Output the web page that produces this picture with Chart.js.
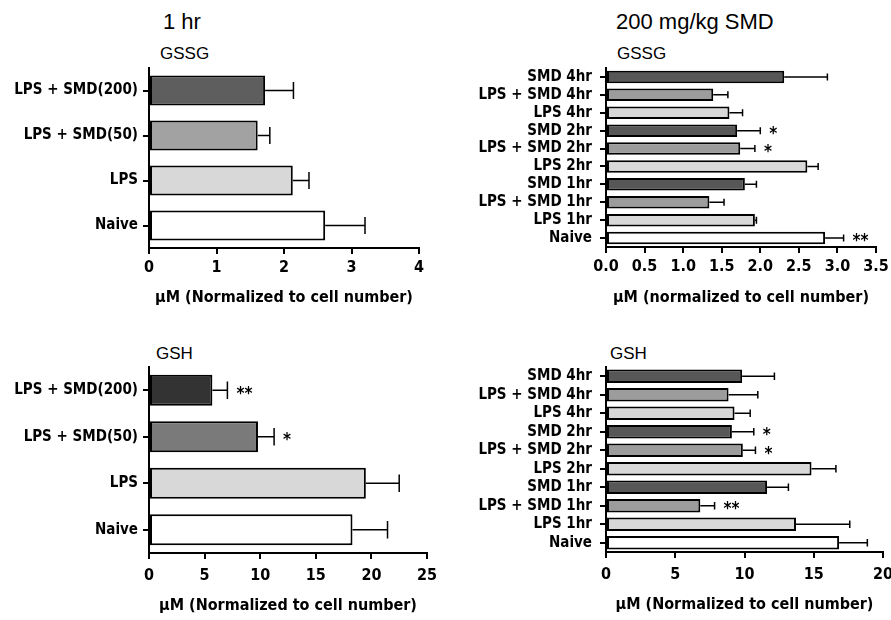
<!DOCTYPE html>
<html>
<head>
<meta charset="utf-8">
<script src="https://cdn.jsdelivr.net/npm/chart.js@4"></script>
<style>
  body { margin: 0; background: #fff; }
  #wrap { position: relative; width: 891px; height: 620px; overflow: hidden; }
  canvas { position: absolute; }
  .ttl { position: absolute; font-family: 'Liberation Sans', Arial, sans-serif; color: #000; white-space: nowrap; line-height: 1; }
  .big { font-size: 22px; }
  .sub { font-size: 17px; }
</style>
</head>
<body>
<div id="wrap">
  <div class="ttl big" style="left:163px; top:11px;">1 hr</div>
  <div class="ttl big" style="left:616px; top:11px;">200 mg/kg SMD</div>
  <div class="ttl sub" style="left:160px; top:45px;">GSSG</div>
  <div class="ttl sub" style="left:617px; top:45px;">GSSG</div>
  <div class="ttl sub" style="left:156px; top:345px;">GSH</div>
  <div class="ttl sub" style="left:610px; top:345px;">GSH</div>
  <canvas id="gssg1h" width="445" height="253" style="left:0; top:58px;"></canvas>
  <canvas id="gssgSmd" width="446" height="253" style="left:445px; top:58px;"></canvas>
  <canvas id="gsh1h" width="445" height="262" style="left:0; top:358px;"></canvas>
  <canvas id="gshSmd" width="446" height="262" style="left:445px; top:358px;"></canvas>
</div>
<script>
// categories
const doseLabels = ['LPS + SMD(200)', 'LPS + SMD(50)', 'LPS', 'Naive'];
const timeLabels = ['SMD 4hr', 'LPS + SMD 4hr', 'LPS 4hr', 'SMD 2hr', 'LPS + SMD 2hr',
                    'LPS 2hr', 'SMD 1hr', 'LPS + SMD 1hr', 'LPS 1hr', 'Naive'];

// GSSG, 1 hr
const gssg1hMean = [1.72, 1.61, 2.13, 2.61];
const gssg1hErr = [0.42, 0.18, 0.24, 0.59];
const gssg1hStars = ['', '', '', ''];

// GSSG, 200 mg/kg SMD
const gssgSmdMean = [2.31, 1.39, 1.60, 1.70, 1.74, 2.61, 1.80, 1.34, 1.93, 2.84];
const gssgSmdErr = [0.56, 0.19, 0.17, 0.30, 0.19, 0.14, 0.15, 0.19, 0.02, 0.24];
const gssgSmdStars = ['', '', '', '*', '*', '', '', '', '', '**'];

// GSH, 1 hr
const gsh1hMean = [5.7, 9.8, 19.5, 18.3];
const gsh1hErr = [1.35, 1.45, 3.0, 3.15];
const gsh1hStars = ['**', '*', '', ''];

// GSH, 200 mg/kg SMD
const gshSmdMean = [9.83, 8.85, 9.28, 9.09, 9.88, 14.84, 11.63, 6.81, 13.72, 16.83];
const gshSmdErr = [2.33, 2.11, 1.13, 1.58, 0.91, 1.76, 1.54, 1.03, 3.88, 2.04];
const gshSmdStars = ['', '', '', '*', '*', '', '', '**', '', ''];

// x axis ranges [min, max, step]
const gssg1hAxis = [0, 4, 1];
const gssgSmdAxis = [0, 3.5, 0.5];
const gsh1hAxis = [0, 25, 5];
const gshSmdAxis = [0, 20, 5];

// bar fills
const DARK = '#575757', MID = '#9c9c9c', LIGHT = '#d8d8d8', WHITE = '#ffffff';
const timeColors = [DARK, MID, LIGHT, DARK, MID, LIGHT, DARK, MID, LIGHT, WHITE];

const FONT = "'Liberation Sans Narrow', 'DejaVu Sans Condensed', 'Liberation Sans', Arial, sans-serif";

// error bars + significance stars
const errorBars = {
    id: 'errorBars',
    afterDatasetsDraw(chart) {
        const ds = chart.data.datasets[0];
        const meta = chart.getDatasetMeta(0);
        const xs = chart.scales.x;
        const ctx = chart.ctx;
        ctx.save();
        ctx.strokeStyle = '#000';
        ctx.fillStyle = '#000';
        ctx.lineWidth = 1.5;
        ctx.font = 'bold 17px ' + FONT;
        ctx.textBaseline = 'middle';
        meta.data.forEach((bar, i) => {
            const x0 = xs.getPixelForValue(ds.data[i]);
            const x1 = xs.getPixelForValue(ds.data[i] + ds.errors[i]);
            const cap = bar.height * 0.28;
            ctx.beginPath();
            ctx.moveTo(x0, bar.y);
            ctx.lineTo(x1, bar.y);
            ctx.moveTo(x1, bar.y - cap);
            ctx.lineTo(x1, bar.y + cap);
            ctx.stroke();
            if (ds.stars[i]) {
                ctx.fillText(ds.stars[i], x1 + 9, bar.y + 4);
            }
        });
        ctx.restore();
    }
};

function makeChart(id, labels, mean, err, stars, colors, axis, opt) {
    const el = document.getElementById(id);
    if (!el) return;
    new Chart(el, {
        type: 'bar',
        data: {
            labels: labels,
            datasets: [{
                data: mean,
                errors: err,
                stars: stars,
                backgroundColor: colors,
                borderColor: '#000',
                borderWidth: 2,
                borderSkipped: false,
                barPercentage: opt.bar,
                categoryPercentage: 1
            }]
        },
        options: {
            indexAxis: 'y',
            responsive: false,
            animation: false,
            events: [],
            layout: { padding: opt.pad },
            plugins: { legend: { display: false }, tooltip: { enabled: false } },
            scales: {
                x: {
                    min: axis[0],
                    max: axis[1],
                    ticks: {
                        stepSize: axis[2],
                        color: '#000',
                        padding: opt.tickPad,
                        font: { family: FONT, size: 16, weight: 'bold' },
                        callback: v => axis[2] < 1 ? v.toFixed(1) : String(v)
                    },
                    grid: { drawOnChartArea: false, drawTicks: true, tickLength: 6, color: '#000', lineWidth: 2 },
                    border: { color: '#000', width: 2 },
                    title: {
                        display: true,
                        text: opt.xTitle,
                        color: '#000',
                        padding: { top: 4, bottom: 4 },
                        font: { family: FONT, size: 16, weight: 'bold' }
                    },
                    afterFit: s => { s.height = opt.xH; s.paddingLeft = 0; s.paddingRight = 0; }
                },
                y: {
                    ticks: {
                        color: '#000',
                        padding: opt.yPad,
                        autoSkip: false,
                        font: { family: FONT, size: 15, weight: 'bold' }
                    },
                    grid: { offset: false, drawOnChartArea: false, drawTicks: true, tickLength: 6, color: '#000', lineWidth: 2 },
                    border: { color: '#000', width: 2 },
                    afterFit: s => { s.width = opt.yW; s.paddingTop = 0; s.paddingBottom = 0; }
                }
            }
        },
        plugins: [errorBars]
    });
}

makeChart('gssg1h', doseLabels, gssg1hMean, gssg1hErr, gssg1hStars,
    ['#5e5e5e', '#a2a2a2', LIGHT, WHITE], gssg1hAxis,
    { bar: 0.67, pad: { left: 0, right: 26, top: 10, bottom: 0 }, xH: 63, yW: 149, yPad: 5, tickPad: 4,
      xTitle: 'µM (Normalized to cell number)' });

makeChart('gssgSmd', timeLabels, gssgSmdMean, gssgSmdErr, gssgSmdStars,
    timeColors, gssgSmdAxis,
    { bar: 0.7, pad: { left: 0, right: 15, top: 10, bottom: 0 }, xH: 64, yW: 161, yPad: 8, tickPad: 4,
      xTitle: 'µM (normalized to cell number)' });

makeChart('gsh1h', doseLabels, gsh1hMean, gsh1hErr, gsh1hStars,
    ['#333333', '#7a7a7a', LIGHT, WHITE], gsh1hAxis,
    { bar: 0.67, pad: { left: 0, right: 18, top: 9, bottom: 1 }, xH: 66, yW: 149, yPad: 5, tickPad: 7,
      xTitle: 'µM (Normalized to cell number)' });

makeChart('gshSmd', timeLabels, gshSmdMean, gshSmdErr, gshSmdStars,
    timeColors, gshSmdAxis,
    { bar: 0.72, pad: { left: 0, right: 8, top: 9, bottom: 2 }, xH: 66, yW: 161, yPad: 8, tickPad: 7,
      xTitle: 'µM (Normalized to cell number)' });
</script>
</body>
</html>
